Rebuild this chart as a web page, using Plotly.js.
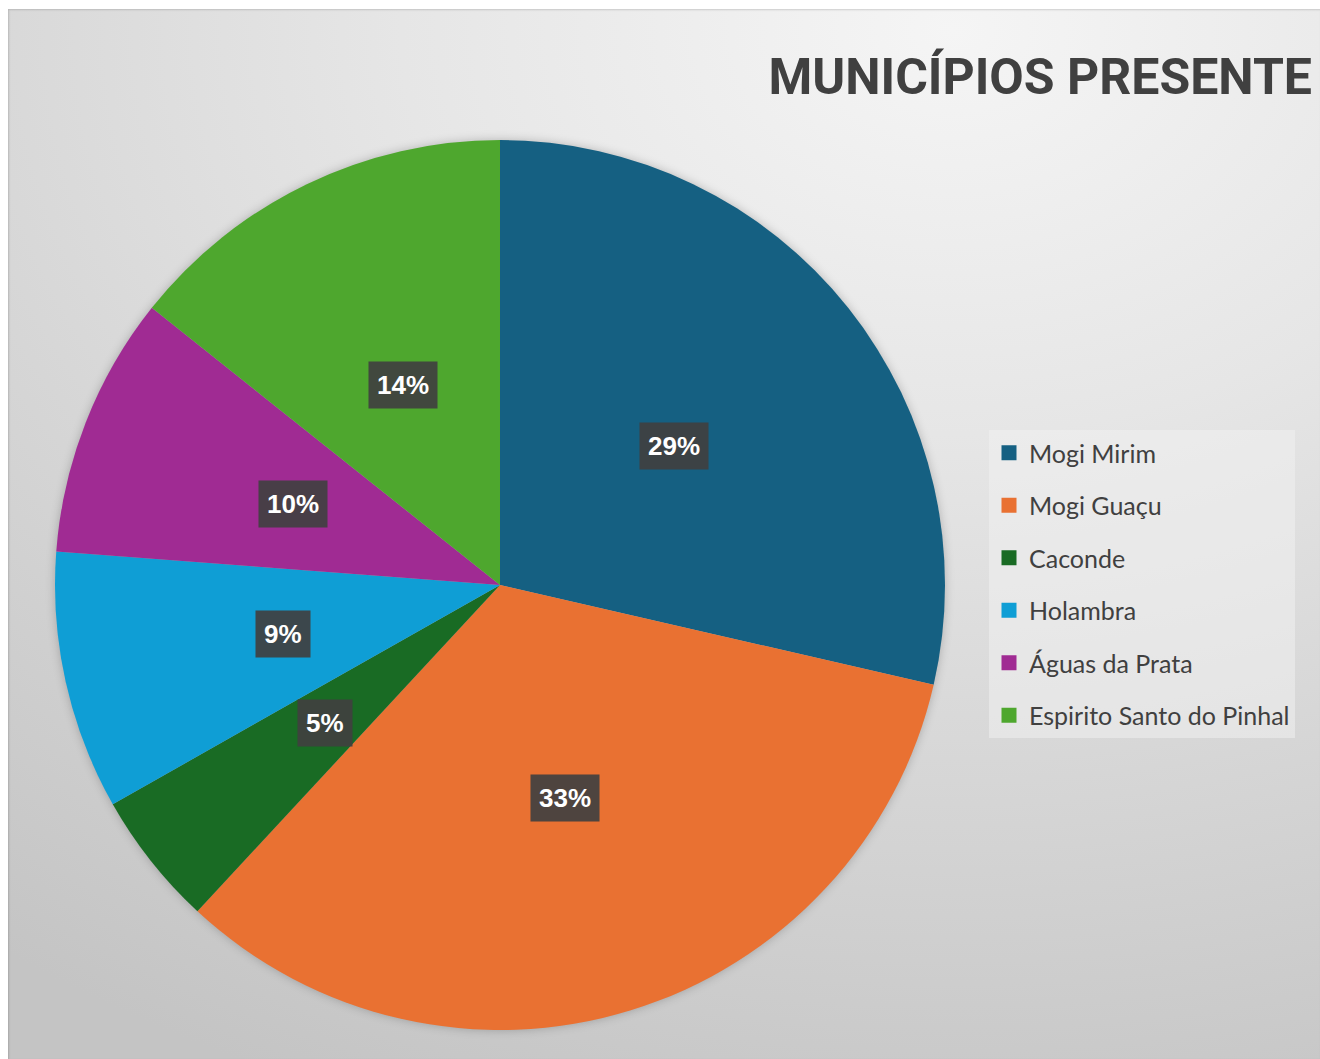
<!DOCTYPE html>
<html>
<head>
<meta charset="utf-8">
<script src="https://cdn.plot.ly/plotly-3.0.1.min.js"></script>
<style>
  html, body { margin: 0; padding: 0; background: #ffffff; width: 1320px; height: 1059px; overflow: hidden; }
  #bg { position: absolute; left: 8px; top: 9px; width: 1312px; height: 1050px;
        background: radial-gradient(ellipse 120% 110% at 72% 2%, #f5f5f5 0%, #e6e6e6 35%, #d6d6d6 65%, #c4c4c4 100%);
        box-shadow: inset 1px 1px 2px rgba(0,0,0,0.15); }
  #chart { position: absolute; left: 0; top: 0; width: 1320px; height: 1059px; }
  #chart .pielayer { filter: drop-shadow(0px 0px 5px rgba(0,0,0,0.22)); }
</style>
</head>
<body>
<div id="bg"></div>
<div id="chart"></div>
<script>
const categories = ["Mogi Mirim", "Mogi Guaçu", "Caconde", "Holambra", "Águas da Prata", "Espirito Santo do Pinhal"];
const values = [28.6, 33.3, 4.9, 9.4, 9.5, 14.3];
const colors = ["#156082", "#E97132", "#196B24", "#0F9ED5", "#A02B93", "#4EA72E"];
const titleText = "MUNICÍPIOS PRESENTE";

const W = 1320, H = 1059;
const cx = 500, cy = 585, R = 445;
const dom = { x: [(cx - R) / W, (cx + R) / W], y: [(H - cy - R) / H, (H - cy + R) / H] };

const pie = {
  type: "pie",
  labels: categories,
  values: values,
  sort: false,
  direction: "clockwise",
  rotation: 0,
  marker: { colors: colors, line: { width: 0 } },
  textinfo: "none",
  hoverinfo: "label+percent",
  showlegend: false,
  domain: dom
};

// legend entries (one per category) via empty traces so spacing can be controlled
const legendTraces = categories.map((c, i) => ({
  type: "scatter", mode: "markers", x: [null], y: [null], name: c,
  legendgroup: "g" + i,
  marker: { symbol: "square", size: 15, color: colors[i] },
  xaxis: "x", yaxis: "y", hoverinfo: "skip"
}));

// percentage labels from the data
const total = values.reduce((a, b) => a + b, 0);
let cum = 0;
const annotations = values.map((v) => {
  const th = 2 * Math.PI * (cum + v / 2) / total;
  cum += v;
  const rr = 0.5 * R;
  return {
    xref: "paper", yref: "paper",
    x: (cx + rr * Math.sin(th)) / W,
    y: (H - cy + rr * Math.cos(th)) / H,
    text: Math.round(100 * v / total + 1e-9) + "%",
    showarrow: false,
    font: { family: "Liberation Sans, Arial, sans-serif", size: 26, color: "#ffffff", weight: "bold" },
    bgcolor: "rgba(64,64,64,0.92)",
    borderpad: 8,
    xanchor: "center", yanchor: "middle"
  };
});

const layout = {
  width: W, height: H,
  margin: { l: 0, r: 0, t: 0, b: 0 },
  paper_bgcolor: "rgba(0,0,0,0)",
  plot_bgcolor: "rgba(0,0,0,0)",
  title: {
    text: titleText,
    x: 1312 / W, xanchor: "right", xref: "paper",
    y: (H - 76) / H, yanchor: "middle", yref: "paper",
    font: { family: "Roboto, sans-serif", size: 50, color: "#404040", weight: "bold" }
  },
  xaxis: { visible: false, domain: [0.99, 1], fixedrange: true },
  yaxis: { visible: false, domain: [0.99, 1], fixedrange: true },
  showlegend: true,
  legend: {
    x: 989 / W, xanchor: "left",
    y: (H - 430) / H, yanchor: "top",
    bgcolor: "rgba(240,240,240,0.55)",
    borderwidth: 0,
    font: { family: "Lato, sans-serif", size: 25, color: "#404040" },
    tracegroupgap: 17,
    itemclick: false, itemdoubleclick: false
  },
  annotations: annotations
};

Plotly.newPlot("chart", [pie].concat(legendTraces), layout, { displayModeBar: false, staticPlot: true });
</script>
</body>
</html>
